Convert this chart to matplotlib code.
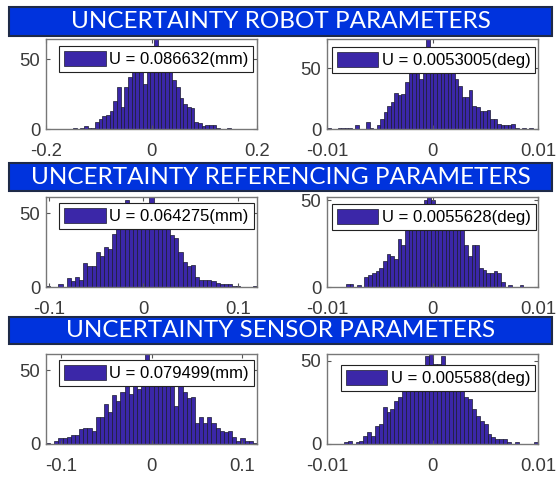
import numpy as np
import matplotlib.pyplot as plt
from matplotlib.patches import Rectangle

# bin counts (left: position in mm, right: orientation in deg)
robot_pos = [1, 0, 1, 2, 1, 1, 5, 7, 9, 10, 13, 20, 30, 16, 30, 37, 45, 52, 58, 32,
             58, 55, 68, 55, 52, 50, 46, 35, 30, 22, 18, 16, 15, 5, 4, 2, 3, 3, 3, 1,
             0, 0, 1]
robot_rot = [1, 0, 0, 1, 1, 1, 1, 0, 3, 0, 0, 6, 1, 0, 3, 8, 14, 19, 22, 30,
             28, 29, 39, 47, 55, 60, 41, 62, 76, 60, 58, 56, 58, 52, 50, 48, 41, 35, 26, 26,
             32, 19, 18, 15, 15, 16, 8, 8, 4, 3, 3, 3, 4, 1, 0, 1, 0, 1]
ref_pos = [1, 0, 0, 2, 0, 6, 4, 7, 5, 16, 14, 14, 24, 21, 27, 26, 36, 42, 47, 59,
           50, 52, 50, 55, 53, 63, 55, 50, 48, 45, 35, 33, 24, 17, 14, 15, 7, 5, 5, 5,
           4, 3, 2, 2, 2, 1, 1, 0, 0, 0, 1]
ref_rot = [2, 2, 0, 1, 0, 6, 7, 8, 9, 11, 15, 19, 18, 16, 28, 24, 38, 42, 45, 48,
           47, 50, 56, 50, 48, 47, 45, 44, 42, 40, 38, 36, 24, 18, 24, 24, 11, 10, 8, 8,
           9, 8, 3, 0, 1, 0, 0, 1]
sens_pos = [1, 0, 2, 4, 4, 5, 6, 6, 10, 11, 11, 9, 18, 18, 27, 22, 33, 29, 35, 39,
            34, 40, 37, 45, 64, 52, 50, 48, 52, 47, 45, 26, 40, 35, 31, 32, 14, 18, 14, 18,
            14, 11, 9, 8, 9, 5, 2, 4, 2, 2, 1]
sens_rot = [1, 2, 0, 1, 2, 5, 7, 5, 11, 12, 22, 19, 21, 26, 28, 34, 37, 40, 42, 45,
            47, 53, 56, 48, 48, 53, 47, 45, 40, 35, 33, 28, 27, 21, 17, 14, 12, 6, 4, 3,
            3, 3, 1, 0, 1, 0, 0, 0, 0, 1]

# data range of each histogram (first / last bin edge)
ranges = [(-0.149, 0.151), (-0.0100, 0.0095),
          (-0.103, 0.1205), (-0.0082, 0.0086),
          (-0.117, 0.117), (-0.0084, 0.0100)]
counts = [robot_pos, robot_rot, ref_pos, ref_rot, sens_pos, sens_rot]
labels = ['U = 0.086632(mm)', 'U = 0.0053005(deg)',
          'U = 0.064275(mm)', 'U = 0.0055628(deg)',
          'U = 0.079499(mm)', 'U = 0.005588(deg)']
titles = ['UNCERTAINTY ROBOT PARAMETERS',
          'UNCERTAINTY REFERENCING PARAMETERS',
          'UNCERTAINTY SENSOR PARAMETERS']
xlims = [(-0.2, 0.2), (-0.01, 0.01), (-0.103, 0.1205), (-0.01, 0.01),
         (-0.117, 0.117), (-0.01, 0.01)]
xticks = [[-0.2, 0, 0.2], [-0.01, 0, 0.01], [-0.1, 0, 0.1], [-0.01, 0, 0.01],
          [-0.1, 0, 0.1], [-0.01, 0, 0.01]]
ylims = [64.5, 74, 61, 52, 61, 54]

W, H = 556, 478
fig = plt.figure(figsize=(W / 100, H / 100), dpi=100)
plt.rcParams['font.family'] = ['Liberation Sans', 'DejaVu Sans']

bar_col = '#3b27a8'
banner_rows = [(7, 36), (163, 191), (317, 344)]
axes_rows = [(39, 129), (197, 287), (354, 444)]
axes_cols = [46, 327]
leg_pos = [(0.062, 0.922), (0.022, 0.914), (0.063, 0.933), (0.022, 0.922),
           (0.063, 0.933), (0.065, 0.878)]

for r in range(3):
    t, b = banner_rows[r]
    fig.patches.append(Rectangle((9 / W, 1 - b / H), 543 / W, (b - t) / H,
                                 transform=fig.transFigure, facecolor='#0033dd',
                                 edgecolor='#1e2a48', linewidth=1.5))
    fig.text(280.5 / W, 1 - (t + b) / 2 / H, titles[r], color='white',
             family='Lato', fontsize=17.5, ha='center', va='center')

for k in range(6):
    r, c = divmod(k, 2)
    t, b = axes_rows[r]
    ax = fig.add_axes([axes_cols[c] / W, 1 - b / H, 211 / W, (b - t) / H])
    lo, hi = ranges[k]
    edges = np.linspace(lo, hi, len(counts[k]) + 1)
    mids = (edges[:-1] + edges[1:]) / 2
    ax.hist(mids, bins=edges, weights=counts[k], color=bar_col,
            edgecolor='#1a1a2e', linewidth=0.5, label=labels[k])
    ax.set_xlim(xlims[k])
    ax.set_ylim(0, ylims[k])
    ax.set_xticks(xticks[k])
    ax.set_xticklabels([('%g' % v) for v in xticks[k]])
    ax.set_yticks([0, 50])
    ax.tick_params(direction='in', length=3, top=True, right=True,
                   labelsize=13.3, labelcolor='#3a3a3a', color='#555555')
    ax.tick_params(axis='x', pad=10)
    ax.tick_params(axis='y', pad=4)
    for s in ax.spines.values():
        s.set_color('#777777')
        s.set_linewidth(1.0)
    leg = ax.legend(loc='upper left', bbox_to_anchor=leg_pos[k], borderaxespad=0,
                    fontsize=12, handlelength=2.5, handleheight=1.0,
                    handletextpad=0.2, borderpad=0.3, fancybox=False,
                    framealpha=1, edgecolor='#222222')
    leg.get_frame().set_linewidth(0.8)

fig.savefig('out.png', dpi=100)
